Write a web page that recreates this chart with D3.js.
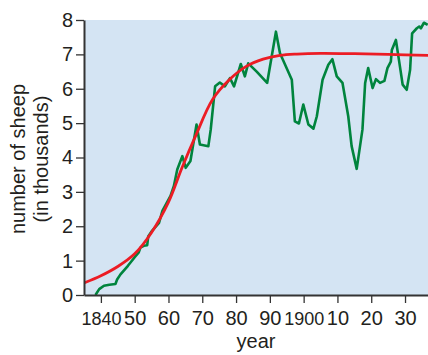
<!DOCTYPE html>
<html>
<head>
<meta charset="utf-8">
<script src="https://cdn.jsdelivr.net/npm/d3@7"></script>
<style>
  body { margin: 0; background: #fff; }
  text { font-family: "Liberation Sans", Arial, sans-serif; fill: #231f20; }
</style>
</head>
<body>
<div id="chart"></div>
<script>
// observed sheep counts (thousands)
var sheepYears = [1838.4, 1839.5, 1840.9, 1842.5, 1844.3, 1844.8, 1845.8, 1848, 1850, 1851.2,
  1851.7, 1852.7, 1853.7, 1854.0, 1855, 1857.2, 1858.2, 1860.6, 1861.6, 1862.6,
  1864.1, 1865.1, 1866.5, 1868.3, 1869.3, 1871.8, 1872.5, 1873.8, 1875.2, 1876.7,
  1878.2, 1879.4, 1881.4, 1882.6, 1883.6, 1886.1, 1889.2, 1891.8, 1893, 1896.5,
  1897.4, 1898.6, 1899.9, 1901.4, 1902.9, 1903.9, 1905.6, 1907.3, 1908.5, 1909.8,
  1911.5, 1913.2, 1914.2, 1915.7, 1917.4, 1918.2, 1919.1, 1920.4, 1921.4, 1922.6,
  1923.9, 1924.8, 1925.8, 1926.1, 1927.3, 1928.2, 1929.3, 1930.5, 1931.5, 1932.1,
  1933.5, 1934.2, 1934.7, 1935.6, 1936.7];
var sheepCounts = [0, 0.17, 0.27, 0.3, 0.32, 0.45, 0.6, 0.85, 1.1, 1.24,
  1.38, 1.43, 1.45, 1.7, 1.85, 2.1, 2.45, 2.88, 3.17, 3.65,
  4.04, 3.7, 3.9, 4.96, 4.38, 4.33, 4.81, 6.07, 6.18, 6.07,
  6.31, 6.07, 6.72, 6.36, 6.74, 6.5, 6.17, 7.66, 7.03, 6.26,
  5.05, 4.99, 5.54, 4.96, 4.84, 5.2, 6.26, 6.7, 6.86, 6.36,
  6.17, 5.2, 4.33, 3.67, 4.81, 6.17, 6.6, 6.02, 6.28, 6.17,
  6.23, 6.6, 6.79, 7.13, 7.42, 6.84, 6.12, 5.97, 6.55, 7.61,
  7.76, 7.81, 7.76, 7.92, 7.86];

// fitted curve
var fitYears = [1835, 1840, 1845, 1850, 1855, 1860, 1864, 1868, 1873, 1878, 1883, 1888, 1893, 1898, 1905, 1915, 1925, 1937];
var fitCounts = [0.35, 0.56, 0.83, 1.2, 1.82, 2.7, 3.7, 4.62, 5.68, 6.26, 6.65, 6.86, 6.97, 7.01, 7.03, 7.02, 7.0, 6.97];

var tickYears = [1840, 1850, 1860, 1870, 1880, 1890, 1900, 1910, 1920, 1930];
var tickLabels = ["1840", "50", "60", "70", "80", "90", "1900", "10", "20", "30"];
var yTicks = [0, 1, 2, 3, 4, 5, 6, 7, 8];

var W = 428, H = 355;
var m = { left: 84, top: 20, right: 428, bottom: 295 };

var svg = d3.select("#chart").append("svg")
    .attr("width", W)
    .attr("height", H);

var x = d3.scaleLinear().domain([1835, 1936.8]).range([m.left, m.right]);
var y = d3.scaleLinear().domain([0, 8]).range([m.bottom, m.top]);

svg.append("rect")
    .attr("x", m.left).attr("y", m.top)
    .attr("width", m.right - m.left).attr("height", m.bottom - m.top)
    .attr("fill", "#d4e4f3");

svg.append("clipPath").attr("id", "clip")
  .append("rect")
    .attr("x", m.left).attr("y", m.top - 5)
    .attr("width", m.right - m.left).attr("height", m.bottom - m.top + 5);

var plot = svg.append("g").attr("clip-path", "url(#clip)");

var fitLine = d3.line()
    .x((d, i) => x(fitYears[i]))
    .y(d => y(d))
    .curve(d3.curveCatmullRom.alpha(0.5));

var sheepLine = d3.line()
    .x((d, i) => x(sheepYears[i]))
    .y(d => y(d));

plot.append("path")
    .attr("d", sheepLine(sheepCounts))
    .attr("fill", "none")
    .attr("stroke", "#00843d")
    .attr("stroke-width", 2.6)
    .attr("stroke-linejoin", "round");

plot.append("path")
    .attr("d", fitLine(fitCounts))
    .attr("fill", "none")
    .attr("stroke", "#ec1c24")
    .attr("stroke-width", 2.8);

// axes
var yAxis = svg.append("g")
    .attr("transform", "translate(" + m.left + ",0)")
    .call(d3.axisLeft(y).tickValues(yTicks).tickSize(8).tickPadding(3).tickSizeOuter(0));

var xAxis = svg.append("g")
    .attr("transform", "translate(0," + m.bottom + ")")
    .call(d3.axisBottom(x).tickValues(tickYears).tickSize(8).tickPadding(8).tickSizeOuter(0)
      .tickFormat((d, i) => tickLabels[i]));

[yAxis, xAxis].forEach(function(a) {
  a.select(".domain").attr("stroke", "#333").attr("stroke-width", 2);
  a.selectAll(".tick line").attr("stroke", "#333").attr("stroke-width", 1.3);
  a.selectAll("text").attr("font-size", 20).attr("fill", "#231f20")
    .style("font-family", "'Liberation Sans', Arial, sans-serif");
});

// the century labels are printed smaller
xAxis.selectAll(".tick text")
    .filter(d => d === 1840 || d === 1900)
    .attr("font-size", 18)
    .attr("dy", "0.76em");

svg.append("text")
    .attr("x", 256).attr("y", 348)
    .attr("text-anchor", "middle")
    .attr("font-size", 20)
    .text("year");

var ylab = svg.append("text")
    .attr("transform", "translate(25,159) rotate(-90)")
    .attr("text-anchor", "middle")
    .attr("font-size", 20);
ylab.append("tspan").attr("x", 0).attr("dy", 0).text("number of sheep");
ylab.append("tspan").attr("x", 0).attr("dy", 23).text("(in thousands)");
</script>
</body>
</html>
